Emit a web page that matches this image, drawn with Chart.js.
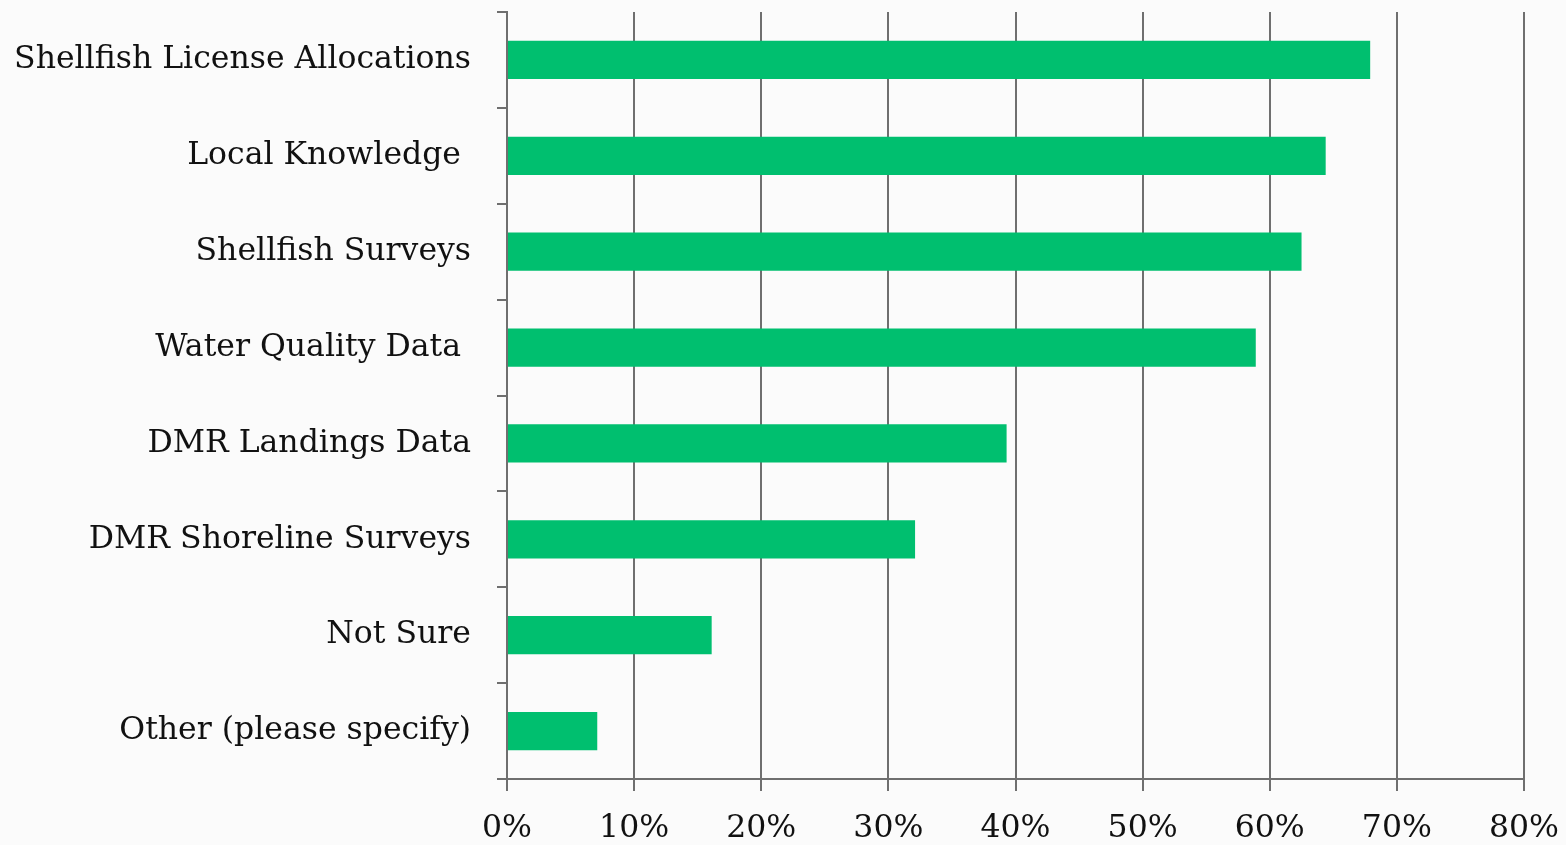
<!DOCTYPE html>
<html>
<head>
<meta charset="utf-8">
<script src="https://cdn.jsdelivr.net/npm/chart.js@4.4.1/dist/chart.umd.min.js"></script>
<style>
  html, body { margin: 0; padding: 0; background: #fbfbfb; }
  #wrap { width: 1566px; height: 845px; }
</style>
</head>
<body>
<div id="wrap"><canvas id="chart" width="1566" height="845"></canvas></div>
<script>
// categories, top to bottom as drawn
const categories = [
    'Shellfish License Allocations',
    'Local Knowledge ',
    'Shellfish Surveys',
    'Water Quality Data ',
    'DMR Landings Data',
    'DMR Shoreline Surveys',
    'Not Sure',
    'Other (please specify)'
];
// share of respondents, in percent
const shares = [67.9, 64.4, 62.5, 58.9, 39.3, 32.1, 16.1, 7.1];
const xTicks = [0, 10, 20, 30, 40, 50, 60, 70, 80];

const gridColor = '#6f6f6f';
const barColor = '#00bf6f';
const labelFont = { family: "'DejaVu Serif', 'Liberation Serif', serif", size: 31.5 };

new Chart(document.getElementById('chart'), {
    type: 'bar',
    data: {
        labels: categories,
        datasets: [{
            data: shares,
            backgroundColor: barColor,
            borderWidth: 0,
            barPercentage: 0.4,
            categoryPercentage: 1.0
        }]
    },
    options: {
        indexAxis: 'y',
        responsive: false,
        animation: false,
        layout: { padding: { top: 12, right: 42, left: 0, bottom: 0 } },
        plugins: { legend: { display: false }, tooltip: { enabled: false } },
        scales: {
            x: {
                min: 0,
                max: 80,
                afterBuildTicks: (scale) => { scale.ticks = xTicks.map(v => ({ value: v })); },
                afterFit: (scale) => {
                    scale.height = 66;
                    scale.paddingLeft = 0;
                    scale.paddingRight = 0;
                },
                grid: { color: gridColor, lineWidth: 2, tickLength: 12 },
                border: { color: gridColor, width: 2 },
                ticks: {
                    color: '#111',
                    font: labelFont,
                    padding: 19,
                    maxRotation: 0,
                    callback: (v) => v + '%'
                }
            },
            y: {
                afterFit: (scale) => {
                    scale.width = 507;
                    scale.paddingTop = 0;
                    scale.paddingBottom = 0;
                },
                grid: { drawOnChartArea: false, color: gridColor, lineWidth: 2, tickLength: 10, offset: true },
                border: { color: gridColor, width: 2 },
                ticks: { color: '#111', font: labelFont, padding: 26 }
            }
        }
    }
});
</script>
</body>
</html>
